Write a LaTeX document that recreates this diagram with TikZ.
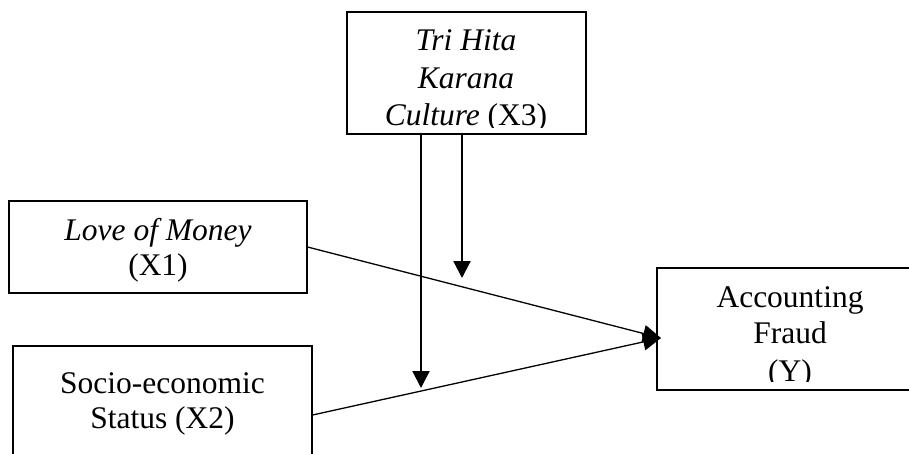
\documentclass[tikz,border=0pt]{standalone}
\usepackage{fontspec}
\setmainfont{Liberation Serif}
\usetikzlibrary{arrows.meta}
\begin{document}
\begin{tikzpicture}[x=1pt,y=-1pt,
  box/.style={draw=black, line width=1.1pt, rectangle, inner sep=0pt},
  lbl/.style={anchor=base, inner sep=0pt, font=\fontsize{31.5}{36}\selectfont},
  thinarrow/.style={line width=1.3pt, -{Triangle[width=17pt,length=18pt]}},
  thickarrow/.style={line width=2.2pt, -{Triangle[width=17pt,length=17pt]}}]
\clip (0,0) rectangle (909,453);
\fill[white] (0,0) rectangle (909,453);
% boxes
\node[box, minimum width=239pt, minimum height=122pt] (x3) at (466.5,73) {};
\node[box, minimum width=298pt, minimum height=92pt] (x1) at (158,247) {};
\node[box, minimum width=299pt, minimum height=138pt] (x2) at (162.5,415) {};
\node[box, minimum width=266pt, minimum height=122pt] (y) at (790,329) {};
% texts
\begin{scope}
  \clip (347,12) rectangle (586,127);
  \node[lbl] (x3a) at (466,50) {\textit{Tri Hita}};
  \node[lbl] (x3b) at (466,88) {\textit{Karana}};
  \node[lbl] (x3c) at (466,125) {\textit{Culture} (X3)};
\end{scope}
\node[lbl] (x1a) at (158,240) {\textit{Love of Money}};
\node[lbl] (x1b) at (158,275) {(X1)};
\node[lbl] (x2a) at (162.5,393) {Socio-economic};
\node[lbl] (x2b) at (162.5,428) {Status (X2)};
\begin{scope}
  \clip (657,268) rectangle (923,381);
  \node[lbl] (ya) at (790,307) {Accounting};
  \node[lbl] (yb) at (790,343) {Fraud};
  \node[lbl] (yc) at (790,381) {(Y)};
\end{scope}
% connectors
\coordinate (t1) at (421,388);
\coordinate (t2) at (462,278);
\coordinate (yin) at (661,338);
\draw[thickarrow] (x3.south -| t1) -- (t1);
\draw[thickarrow] (x3.south -| t2) -- (t2);
\draw[thinarrow] (x1.east) -- (yin);
\draw[thinarrow] (x2.east) -- (yin);
\end{tikzpicture}
\end{document}
